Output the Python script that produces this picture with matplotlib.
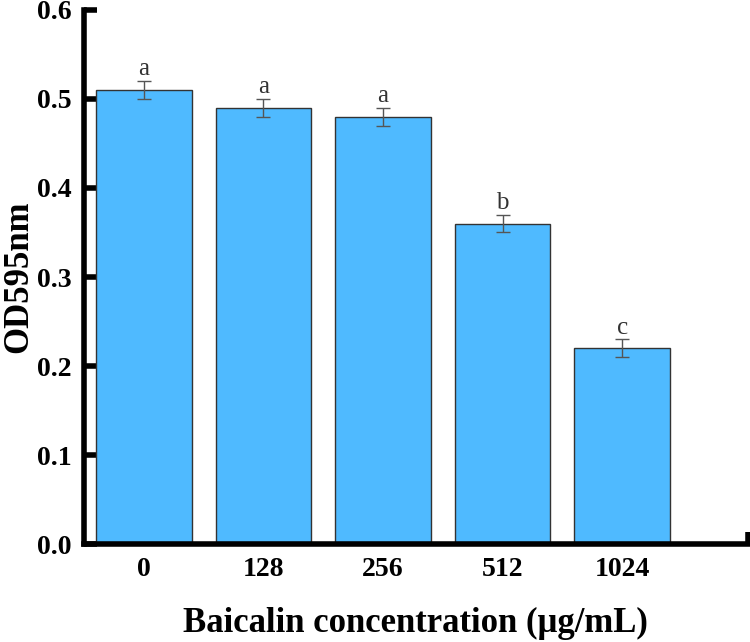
import numpy as np
import matplotlib.pyplot as plt

plt.rcParams['font.family'] = ['Liberation Serif', 'DejaVu Serif']

concentrations = ['0', '128', '256', '512', '1024']
od_values = [0.51, 0.49, 0.48, 0.36, 0.22]
od_errors = [0.01, 0.01, 0.01, 0.01, 0.01]
sig_letters = ['a', 'a', 'a', 'b', 'c']

fig = plt.figure(figsize=(7.5, 6.42), dpi=100)
ax = fig.add_axes([0.112, 0.152, 0.885, 0.833])

x = np.arange(len(concentrations))
ax.bar(x, od_values, width=0.8, color='#4FBAFF', edgecolor='#333333', linewidth=1.0, zorder=2)
ax.errorbar(x, od_values, yerr=od_errors, fmt='none', ecolor='#555555',
            elinewidth=1.0, capsize=5, capthick=1.0, zorder=3)

for xi, v, e, lab in zip(x, od_values, od_errors, sig_letters):
    ax.text(xi, v + e + 0.001, lab, ha='center', va='bottom', fontsize=18, color='#333333')

x_end = 5.05
ax.set_xlim(-0.5, x_end)
ax.set_ylim(0, 0.6)
ax.set_xticks(x)
ax.set_xticklabels(concentrations)
ax.set_xticks([x_end], minor=True)
ax.set_yticks(np.arange(0, 0.61, 0.1))
ax.yaxis.set_major_formatter(plt.FormatStrFormatter('%.1f'))

for s in ['top', 'right']:
    ax.spines[s].set_visible(False)
for s in ['left', 'bottom']:
    ax.spines[s].set_linewidth(4)

ax.tick_params(which='both', direction='in', length=9, width=4, labelsize=20, pad=9)
for lab in ax.get_xticklabels() + ax.get_yticklabels():
    lab.set_fontweight('bold')

ax.set_xlabel('Baicalin concentration (μg/mL)', fontsize=25, fontweight='bold', labelpad=18)
ax.set_ylabel('OD595nm', fontsize=25, fontweight='bold', va='center')
ax.yaxis.set_label_coords(-0.099, 0.5)

plt.savefig('out.png', dpi=100)
